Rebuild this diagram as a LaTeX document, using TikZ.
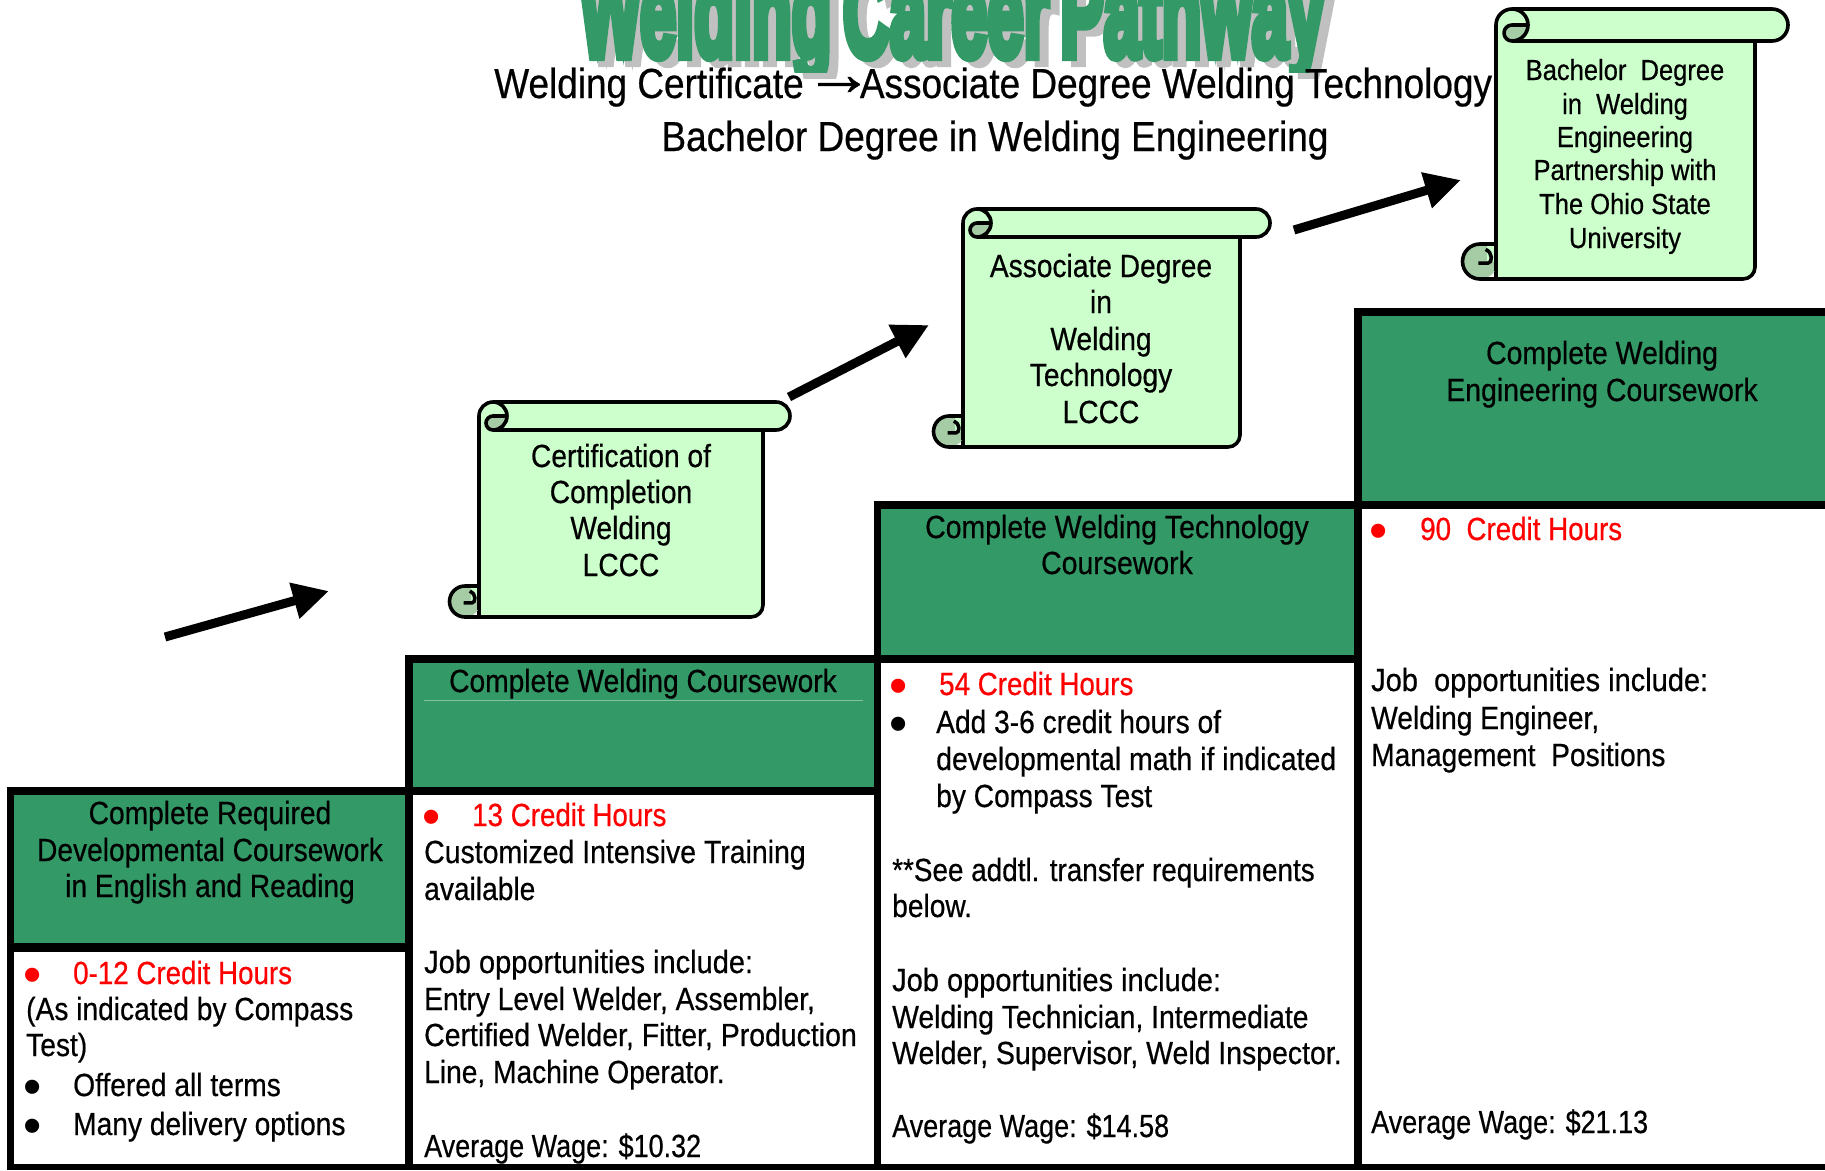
\documentclass[tikz,border=0pt]{standalone}
\usepackage{fontspec}
\setmainfont{Liberation Sans}
\newfontfamily\bodyf[FakeStretch=0.88,FakeBold=0.5]{Liberation Sans}
\newfontfamily\arrowf[FakeBold=0.8]{Liberation Sans}
\newfontfamily\titlef[FakeBold=8]{Liberation Sans Bold}
\usetikzlibrary{arrows.meta}
\definecolor{wgreen}{HTML}{339966}
\definecolor{wpale}{HTML}{CCFFCC}
\definecolor{wdark}{HTML}{A6CCA6}
\definecolor{wshadow}{HTML}{C0C0C0}
\newcommand{\sq}[2]{\scalebox{#1}[1]{#2}}
\newcommand{\titletext}{\scalebox{0.65}[1.25]{\titlef\fontsize{100}{100}\selectfont Welding\hspace{-10pt} Career\hspace{-10pt} Pathway}}
\tikzset{
  x=1pt,y=-1pt,
  bodytext/.style={inner sep=0pt,font=\bodyf\fontsize{32}{36}\selectfont},
  lefttext/.style={bodytext,anchor=base west},
  midtext/.style={bodytext,anchor=base},
  redtext/.style={lefttext,text=red},
  bullettext/.style={inner sep=0pt,anchor=base,font=\fontsize{52}{52}\selectfont},
  scrolltext/.style={inner sep=0pt,anchor=base,font=\bodyf\fontsize{29}{33}\selectfont},
  scrollbig/.style={scrolltext,font=\bodyf\fontsize{32}{36}\selectfont},
  subtitletext/.style={inner sep=0pt,anchor=base,font=\bodyf\fontsize{42}{46}\selectfont},
  frame/.style={fill=black,draw=none},
  bigarrow/.style={draw=black,line width=9pt,-{Triangle[length=36pt,width=35pt]}},
  outline/.style={draw=black,line width=3.6pt,line join=round},
}
% #1 x0, #2 body right, #3 roll right, #4 top, #5 bottom, #6 radius
\newcommand{\scrollshape}[6]{%
  \pgfmathsetmacro{\rb}{#4+2*#6}
  \pgfmathsetmacro{\cy}{#4+#6}
  \pgfmathsetmacro{\cx}{#1+#6}
  \pgfmathsetmacro{\rc}{#6+1.5}
  \pgfmathsetmacro{\by}{#5-\rc}
  \pgfmathsetmacro{\bx}{#1-#6}
  \pgfmathsetmacro{\rh}{0.5*#6}
  % body
  \path[outline,fill=wpale] (#1,\cy) arc[start angle=180,end angle=90,radius=#6pt] -- ({#3-#6},#4)
     arc[start angle=90,end angle=-90,radius=#6pt] -- (#2,\rb) -- ({#2},{#5-12})
     arc[start angle=0,end angle=-90,radius=12pt] -- (\bx,#5) -- (#1,#5) -- cycle;
  % top roll underside and curl
  \draw[outline] ({#3-#6},\rb) -- (\cx,\rb);
  \fill[wdark] (\cx,\rb) arc[start angle=270,end angle=180,radius=\rh pt]
     arc[start angle=180,end angle=90,radius=\rh pt] -- ({\cx+0.95*#6},\cy)
     -- ({\cx+0.8*#6},{\cy+0.6*#6}) -- cycle;
  \draw[outline] (\cx,#4) arc[start angle=90,end angle=-90,radius=#6pt]
     arc[start angle=270,end angle=180,radius=\rh pt]
     arc[start angle=180,end angle=90,radius=\rh pt] -- ({\cx+0.95*#6},\cy);
  % bottom curl
  \fill[wdark] (\bx,\by) circle[radius=\rc pt];
  \fill[wpale] ({\bx+0.45*#6},{\by-\rc}) rectangle ({#1},{\by+0.05*#6});
  \draw[outline] (#1,{\by-\rc}) -- (\bx,{\by-\rc}) arc[start angle=90,end angle=270,radius=\rc pt] -- (#1,#5);
  \draw[outline] ({\bx+0.35*#6},{\by-0.75*#6}) .. controls ({\bx+0.8*#6},{\by-0.6*#6}) and ({\bx+0.8*#6},{\by+0.1*#6}) .. ({\bx+0.5*#6},{\by+0.1*#6}) -- ({\bx-0.1*#6},{\by+0.1*#6});
  \draw[outline] (#1,{\by-\rc}) -- (#1,{\by+0.6*#6});
}
\begin{document}
\begin{tikzpicture}
\useasboundingbox (0,0) rectangle (1825,1170);
% title
\begin{scope}
\clip (0,0) rectangle (1825,78);
\node[inner sep=0pt,anchor=base,text=wshadow] (titleshadow) at (961,62) {\titletext};
\end{scope}
\begin{scope}
\clip (0,0) rectangle (1825,72);
\node[inner sep=0pt,anchor=base,text=wgreen] (title) at (952,56) {\titletext};
\end{scope}
% subtitle
\node[subtitletext] (sub1a) at (649,98) {Welding Certificate};
\node[inner sep=0pt,anchor=base,font=\arrowf\fontsize{42}{46}\selectfont] (sub1b) at (839,95) {\scalebox{1.65}[1.5]{→}};
\node[subtitletext] (sub1c) at (1176,98) {Associate Degree Welding Technology};
\node[subtitletext] (sub2) at (995,151) {Bachelor Degree in Welding Engineering};
% green headers
\fill[wgreen] (14,795) rectangle (405,943);
\fill[wgreen] (413,663) rectangle (874,787);
\fill[wgreen] (881,509) rectangle (1354,655);
\fill[wgreen] (1362,316) rectangle (1825,501);
\draw[color=wgreen!60!white,line width=1pt] (424,700) -- (863,700);
% frame
\fill[frame] (7,787) rectangle (413,795);
\fill[frame] (405,655) rectangle (881,663);
\fill[frame] (874,501) rectangle (1362,509);
\fill[frame] (1354,308) rectangle (1825,316);
\fill[frame] (7,943) rectangle (413,952);
\fill[frame] (405,787) rectangle (881,795);
\fill[frame] (874,655) rectangle (1362,663);
\fill[frame] (1354,501) rectangle (1825,509);
\fill[frame] (7,787) rectangle (14,1170);
\fill[frame] (405,655) rectangle (413,1170);
\fill[frame] (874,501) rectangle (881,1170);
\fill[frame] (1354,308) rectangle (1362,1170);
\fill[frame] (7,1164) rectangle (1825,1170);
% scrolls
\scrollshape{479}{763}{790}{402}{617}{14}
\scrollshape{963}{1240}{1270}{209}{447}{14}
\scrollshape{1496}{1755}{1788}{9}{279}{16}
% arrows
\coordinate (a1s) at (165,637); \coordinate (a1e) at (329,591);
\coordinate (a2s) at (789,397); \coordinate (a2e) at (929,325);
\coordinate (a3s) at (1294,230); \coordinate (a3e) at (1461,180);
\draw[bigarrow] (a1s) -- (a1e);
\draw[bigarrow] (a2s) -- (a2e);
\draw[bigarrow] (a3s) -- (a3e);
% scroll text
\node[scrollbig] (s1a) at (621,467) {Certification of};
\node[scrollbig] (s1b) at (621,503) {Completion};
\node[scrollbig] (s1c) at (621,539) {Welding};
\node[scrollbig] (s1d) at (621,576) {LCCC};
\node[scrollbig] (s2a) at (1101,277) {Associate Degree};
\node[scrollbig] (s2b) at (1101,313) {in};
\node[scrollbig] (s2c) at (1101,350) {Welding};
\node[scrollbig] (s2d) at (1101,386) {Technology};
\node[scrollbig] (s2e) at (1101,423) {LCCC};
\node[scrolltext] (s3a) at (1625,80) {Bachelor\ \ Degree};
\node[scrolltext] (s3b) at (1625,114) {in\ \ Welding};
\node[scrolltext] (s3c) at (1625,147) {Engineering};
\node[scrolltext] (s3d) at (1625,180) {Partnership with};
\node[scrolltext] (s3e) at (1625,214) {The Ohio State};
\node[scrolltext] (s3f) at (1625,248) {University};
% box 1
\node[midtext] (h1a) at (210,824) {Complete Required};
\node[midtext] (h1b) at (210,861) {Developmental Coursework};
\node[midtext] (h1c) at (210,897) {in English and Reading};
\node[bullettext,text=red] (b1x) at (33,992) {•};
\node[redtext] (b1a) at (73,984) {\sq{.985}{0-12 Credit Hours}};
\node[lefttext] (b1b) at (26,1020) {(As indicated by Compass};
\node[lefttext] (b1c) at (26,1056) {Test)};
\node[bullettext] (b1y) at (33,1104) {•};
\node[lefttext] (b1d) at (73,1096) {Offered all terms};
\node[bullettext] (b1z) at (33,1143) {•};
\node[lefttext] (b1e) at (73,1135) {Many delivery options};
% box 2
\node[midtext] (h2a) at (643,692) {Complete Welding Coursework};
\node[bullettext,text=red] (b2x) at (432,834) {•};
\node[redtext] (b2a) at (472,826) {\sq{.985}{13 Credit Hours}};
\node[lefttext] (b2b) at (424,863) {\sq{1.01}{Customized Intensive Training}};
\node[lefttext] (b2c) at (424,900) {available};
\node[lefttext] (b2d) at (424,973) {\sq{1.03}{Job opportunities include:}};
\node[lefttext] (b2e) at (424,1010) {Entry Level Welder, Assembler,};
\node[lefttext] (b2f) at (424,1046) {\sq{1.01}{Certified Welder, Fitter, Production}};
\node[lefttext] (b2g) at (424,1083) {Line, Machine Operator.};
\node[lefttext] (b2h) at (424,1157) {\sq{.958}{Average Wage: \$10.32}};
% box 3
\node[midtext] (h3a) at (1117,538) {\sq{1.01}{Complete Welding Technology}};
\node[midtext] (h3b) at (1117,574) {\sq{1.01}{Coursework}};
\node[bullettext,text=red] (b3x) at (899,703) {•};
\node[redtext] (b3a) at (939,695) {\sq{.985}{54 Credit Hours}};
\node[bullettext] (b3y) at (899,741) {•};
\node[lefttext] (b3b) at (936,733) {Add 3-6 credit hours of};
\node[lefttext] (b3c) at (936,770) {\sq{1.01}{developmental math if indicated}};
\node[lefttext] (b3d) at (936,807) {by Compass Test};
\node[lefttext] (b3e) at (892,881) {\sq{.99}{**See addtl. transfer requirements}};
\node[lefttext] (b3f) at (892,917) {below.};
\node[lefttext] (b3g) at (892,991) {\sq{1.03}{Job opportunities include:}};
\node[lefttext] (b3h) at (892,1028) {\sq{1.005}{Welding Technician, Intermediate}};
\node[lefttext] (b3i) at (892,1064) {\sq{1.01}{Welder, Supervisor, Weld Inspector.}};
\node[lefttext] (b3j) at (892,1137) {\sq{.958}{Average Wage: \$14.58}};
% box 4
\node[midtext] (h4a) at (1602,364) {\sq{1.01}{Complete Welding}};
\node[midtext] (h4b) at (1602,401) {\sq{1.01}{Engineering Coursework}};
\node[bullettext,text=red] (b4x) at (1379,548) {•};
\node[redtext] (b4a) at (1420,540) {\sq{.985}{90\ \ Credit Hours}};
\node[lefttext] (b4b) at (1371,691) {\sq{1.03}{Job\ \ opportunities include:}};
\node[lefttext] (b4c) at (1371,729) {Welding Engineer,};
\node[lefttext] (b4d) at (1371,766) {Management\ \ Positions};
\node[lefttext] (b4e) at (1371,1133) {\sq{.958}{Average Wage: \$21.13}};
\end{tikzpicture}
\end{document}
